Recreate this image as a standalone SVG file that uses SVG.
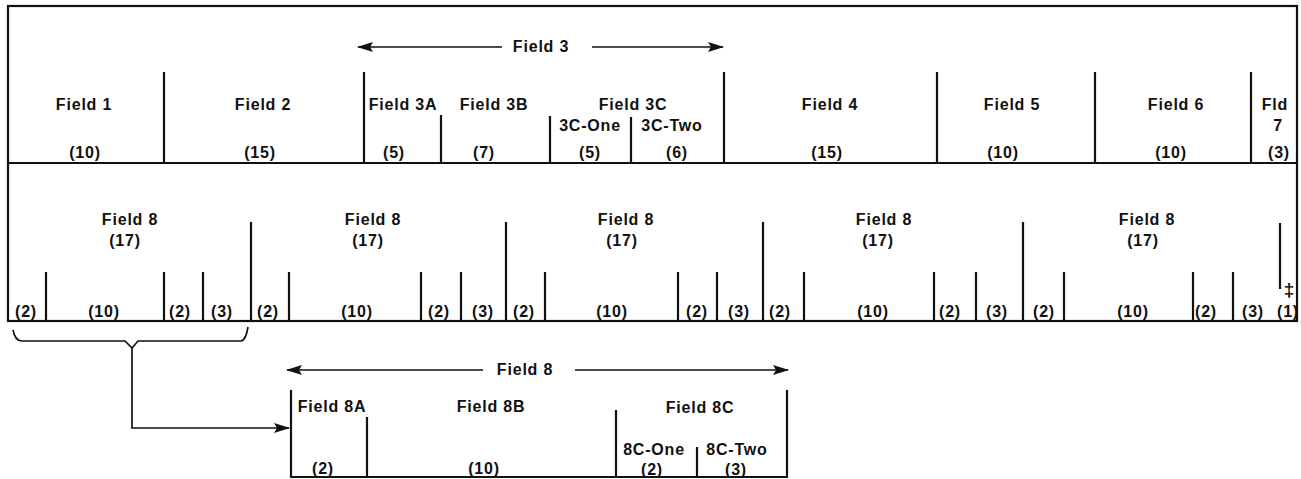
<svg xmlns="http://www.w3.org/2000/svg" width="1301" height="479" viewBox="0 0 1301 479">
<defs>
<style>
.ln{stroke:#111;stroke-width:2.2;fill:none}
.th{stroke:#111;stroke-width:1.7;fill:none}
text{font-family:"Liberation Sans",Arial,sans-serif;font-weight:bold;font-size:16px;fill:#111;text-anchor:middle;letter-spacing:0.8px}
</style>
<marker id="ah" markerUnits="userSpaceOnUse" markerWidth="16" markerHeight="10" refX="15" refY="5" orient="auto-start-reverse">
<path d="M0,0 L16,5 L0,10 L3,5 Z" fill="#111"/>
</marker>
</defs>
<rect width="1301" height="479" fill="#fff"/>

<g id="record-frame">
<rect class="ln" x="8" y="6" width="1289" height="315"/>
<line class="ln" x1="8" y1="163" x2="1297" y2="163"/>
</g>

<g id="field1"><text x="84" y="110">Field 1</text><text x="85" y="158">(10)</text></g>
<g id="field2"><line class="ln" x1="164" y1="72" x2="164" y2="163"/><text x="263" y="110">Field 2</text><text x="260" y="158">(15)</text></g>
<g id="field3">
<line class="ln" x1="364" y1="72" x2="364" y2="163"/>
<text x="541" y="52">Field 3</text>
</g>
<g id="field3a"><text x="403" y="110">Field 3A</text><text x="394" y="158">(5)</text></g>
<g id="field3b"><line class="ln" x1="441" y1="115" x2="441" y2="163"/><text x="494" y="110">Field 3B</text><text x="484" y="158">(7)</text></g>
<g id="field3c">
<line class="ln" x1="550" y1="116" x2="550" y2="163"/>
<line class="ln" x1="631" y1="117" x2="631" y2="163"/>
<text x="633" y="110">Field 3C</text>
<text x="590" y="131">3C-One</text><text x="672" y="131">3C-Two</text>
<text x="590" y="158">(5)</text><text x="677" y="158">(6)</text>
</g>
<g id="field4"><line class="ln" x1="724" y1="72" x2="724" y2="163"/><text x="830" y="110">Field 4</text><text x="827" y="158">(15)</text></g>
<g id="field5"><line class="ln" x1="937" y1="72" x2="937" y2="163"/><text x="1012" y="110">Field 5</text><text x="1003" y="158">(10)</text></g>
<g id="field6"><line class="ln" x1="1095" y1="72" x2="1095" y2="163"/><text x="1176" y="110">Field 6</text><text x="1171" y="158">(10)</text></g>
<g id="field7"><line class="ln" x1="1251" y1="72" x2="1251" y2="163"/><text x="1275" y="110">Fld</text><text x="1278" y="131">7</text><text x="1279" y="158">(3)</text></g>

<g id="field8-1">
<line class="ln" x1="46" y1="272" x2="46" y2="321"/>
<line class="ln" x1="164" y1="272" x2="164" y2="321"/>
<line class="ln" x1="203" y1="272" x2="203" y2="321"/>
<text x="130" y="225">Field 8</text><text x="125" y="246">(17)</text>
<text x="26" y="317">(2)</text><text x="104" y="317">(10)</text><text x="180" y="317">(2)</text><text x="222" y="317">(3)</text>
</g>
<g id="field8-2">
<line class="ln" x1="251" y1="222" x2="251" y2="321"/>
<line class="ln" x1="289" y1="272" x2="289" y2="321"/>
<line class="ln" x1="421" y1="272" x2="421" y2="321"/>
<line class="ln" x1="461" y1="272" x2="461" y2="321"/>
<text x="373" y="225">Field 8</text><text x="368" y="246">(17)</text>
<text x="268" y="317">(2)</text><text x="357" y="317">(10)</text><text x="439" y="317">(2)</text><text x="483" y="317">(3)</text>
</g>
<g id="field8-3">
<line class="ln" x1="506" y1="222" x2="506" y2="321"/>
<line class="ln" x1="545" y1="272" x2="545" y2="321"/>
<line class="ln" x1="678" y1="272" x2="678" y2="321"/>
<line class="ln" x1="717" y1="272" x2="717" y2="321"/>
<text x="626" y="225">Field 8</text><text x="622" y="246">(17)</text>
<text x="524" y="317">(2)</text><text x="612" y="317">(10)</text><text x="697" y="317">(2)</text><text x="739" y="317">(3)</text>
</g>
<g id="field8-4">
<line class="ln" x1="763" y1="222" x2="763" y2="321"/>
<line class="ln" x1="804" y1="272" x2="804" y2="321"/>
<line class="ln" x1="934" y1="272" x2="934" y2="321"/>
<line class="ln" x1="976" y1="272" x2="976" y2="321"/>
<text x="884" y="225">Field 8</text><text x="878" y="246">(17)</text>
<text x="780" y="317">(2)</text><text x="873" y="317">(10)</text><text x="950" y="317">(2)</text><text x="997" y="317">(3)</text>
</g>
<g id="field8-5">
<line class="ln" x1="1023" y1="222" x2="1023" y2="321"/>
<line class="ln" x1="1064" y1="272" x2="1064" y2="321"/>
<line class="ln" x1="1193" y1="272" x2="1193" y2="321"/>
<line class="ln" x1="1233" y1="272" x2="1233" y2="321"/>
<text x="1147" y="225">Field 8</text><text x="1143" y="246">(17)</text>
<text x="1044" y="317">(2)</text><text x="1133" y="317">(10)</text><text x="1206" y="317">(2)</text><text x="1253" y="317">(3)</text>
</g>
<g id="field9">
<line class="ln" x1="1280" y1="223" x2="1280" y2="289"/>
<text x="1289" y="296" style="font-size:19px;letter-spacing:0">‡</text>
<text x="1288" y="317">(1)</text>
</g>

<g id="field8-detail">
<path class="ln" d="M291,390 V477 H787 V390"/>
<line class="ln" x1="367" y1="417" x2="367" y2="477"/>
<line class="ln" x1="616" y1="410" x2="616" y2="477"/>
<line class="ln" x1="697" y1="447" x2="697" y2="477"/>
<text x="525" y="375">Field 8</text>
<text x="332" y="412">Field 8A</text>
<text x="491" y="412">Field 8B</text>
<text x="700" y="413">Field 8C</text>
<text x="654" y="455">8C-One</text>
<text x="737" y="455">8C-Two</text>
<text x="323" y="474">(2)</text>
<text x="484" y="474">(10)</text>
<text x="652" y="475">(2)</text>
<text x="736" y="475">(3)</text>
</g>

<g id="connectors">
<line class="th" x1="502" y1="47" x2="358" y2="47" marker-end="url(#ah)"/>
<line class="th" x1="592" y1="47" x2="723" y2="47" marker-end="url(#ah)"/>
<line class="th" x1="483" y1="370" x2="287" y2="370" marker-end="url(#ah)"/>
<line class="th" x1="575" y1="370" x2="788" y2="370" marker-end="url(#ah)"/>
<path class="th" d="M13,330 Q15,341 22,341 L125,341 L132,348 L138,341 L241,341 Q246,340 248,327"/>
<path class="th" d="M132,348 V428 H289" marker-end="url(#ah)"/>
</g>
</svg>
